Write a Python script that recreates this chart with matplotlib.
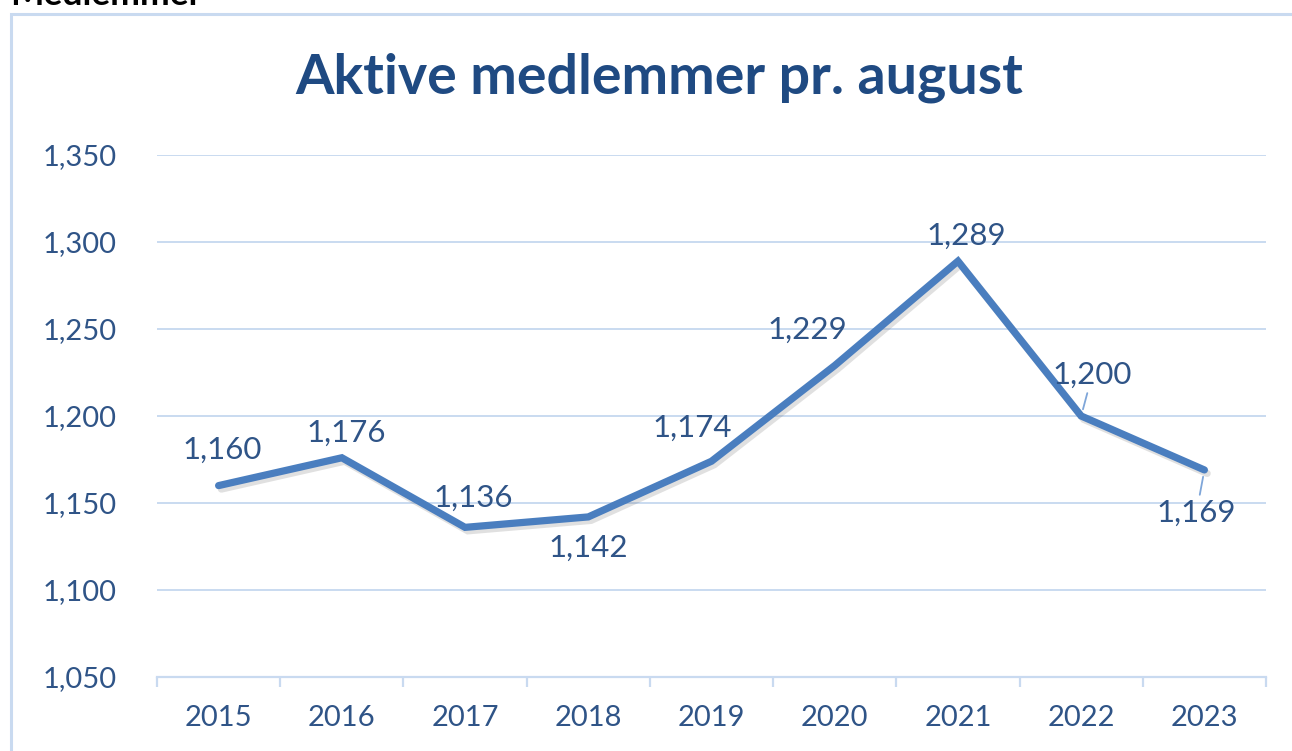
import matplotlib
matplotlib.use("Agg")
import matplotlib.pyplot as plt
import matplotlib.patheffects as pe
from matplotlib.patches import Rectangle
from matplotlib.ticker import FuncFormatter

# ---- data ----
years = ["2015", "2016", "2017", "2018", "2019", "2020", "2021", "2022", "2023"]
members = [1160, 1176, 1136, 1142, 1174, 1229, 1289, 1200, 1169]
yticks = [1050, 1100, 1150, 1200, 1250, 1300, 1350]
title = "Aktive medlemmer pr. august"
heading = "Medlemmer"

# label offsets in pixels (dx, dy) relative to points
label_offsets = [(4, 36), (4, 25), (8, 30), (0, -31), (-19, 33),
                 (-27, 36), (8, 25), (11, 41), (-8, -43)]
leader = [False, False, False, False, False, False, False, True, True]

W, H = 1292, 751
fig = plt.figure(figsize=(W / 100, H / 100), dpi=100)
fig.patch.set_facecolor("white")

FONT = "Lato"
grid_c = "#C9DAF0"
text_c = "#2F5487"
title_c = "#1F4A82"
line_c = "#4A7EBF"

# chart border (box extending beyond figure)
fig.patches.append(Rectangle((11 / W, -0.05), 1.2, 1 - 13.5 / H + 0.05,
                             transform=fig.transFigure, fill=False,
                             edgecolor=grid_c, linewidth=2.2, zorder=0))

# heading, cut at the top edge as in the reference
fig.text(10 / W, 1 - 5 / H, heading, fontsize=25.5, fontweight="bold",
         family=FONT, color="black", ha="left", va="baseline")

ax = fig.add_axes([157 / W, 1 - 677 / H, (1266 - 157) / W, (677 - 155) / H])
x = list(range(len(years)))
ax.plot(x, members, color=line_c, linewidth=5.2, solid_joinstyle="miter",
        solid_capstyle="round", zorder=3,
        path_effects=[pe.SimpleLineShadow(offset=(2, -2.5), shadow_color="#666666", alpha=0.2),
                      pe.Normal()])

ax.set_xlim(-0.5, len(years) - 0.5)
ax.set_ylim(yticks[0], yticks[-1])
ax.set_yticks(yticks)
ax.yaxis.set_major_formatter(FuncFormatter(lambda v, p: f"{int(v):,}"))
ax.set_xticks(x)
ax.set_xticklabels(years)
ax.set_xticks([i - 0.5 for i in range(len(years) + 1)], minor=True)

for s in ["top", "right", "left"]:
    ax.spines[s].set_visible(False)
ax.spines["bottom"].set_color(grid_c)
ax.spines["bottom"].set_linewidth(1.6)
ax.grid(axis="y", color=grid_c, linewidth=1.4)
ax.set_axisbelow(True)

ax.tick_params(axis="y", length=0, pad=29, labelsize=21, labelcolor=text_c)
ax.tick_params(axis="x", which="major", length=0, pad=20, labelsize=21, labelcolor=text_c)
ax.tick_params(axis="x", which="minor", length=7, width=1.6, color=grid_c)
for lab in ax.get_xticklabels() + ax.get_yticklabels():
    lab.set_family(FONT)

for i, (v, (dx, dy)) in enumerate(zip(members, label_offsets)):
    kw = {}
    if leader[i]:
        kw["arrowprops"] = dict(arrowstyle="-", color="#7FA6D9", linewidth=1.3,
                                shrinkA=1, shrinkB=5)
    ax.annotate(f"{v:,}", xy=(i, v), xytext=(dx, dy), textcoords="offset pixels",
                ha="center", va="center", fontsize=22.5, family=FONT, color=text_c,
                zorder=5, **kw)

fig.text(659 / W, 1 - 78 / H, title, fontsize=40, fontweight="bold", family=FONT,
         color=title_c, ha="center", va="center")

fig.savefig("out.png", dpi=100, facecolor="white")
